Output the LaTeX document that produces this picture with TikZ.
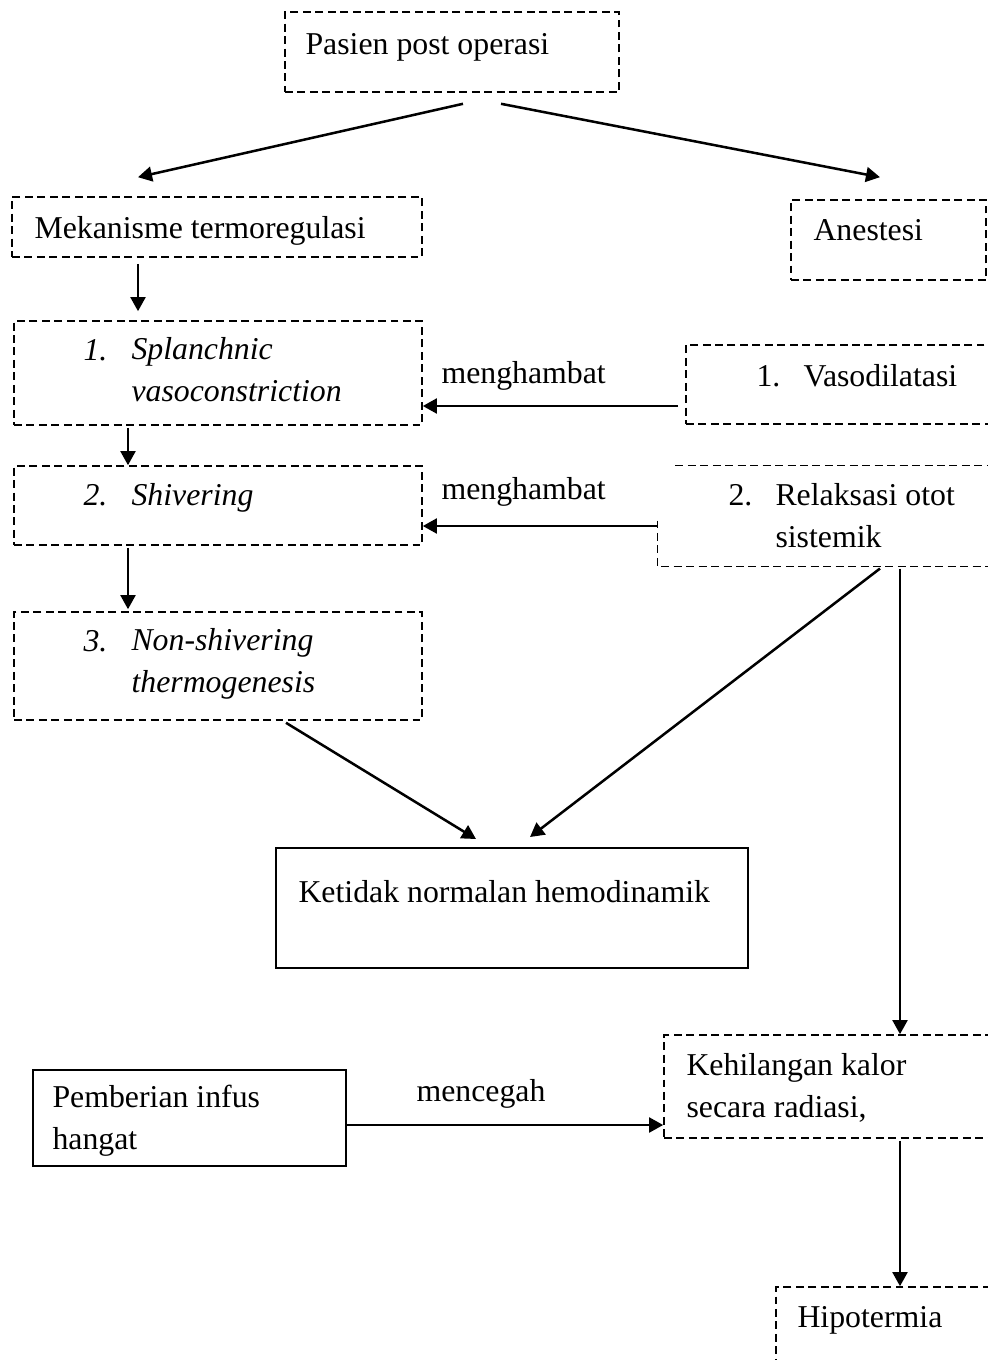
\documentclass[tikz,border=0pt]{standalone}
\usepackage{fontspec}
\setmainfont{Liberation Serif}
\usetikzlibrary{positioning,fit,arrows.meta}

\begin{document}
\begin{tikzpicture}[x=0.3774pt, y=-0.3774pt,
  dline/.style={dash pattern=on 3pt off 1.7pt, line width=0.6pt},
  dbox/.style={draw, dline, inner sep=0pt},
  sbox/.style={draw, line width=0.75pt, inner sep=0pt},
  txt/.style={anchor=base west, inner sep=0pt, align=left, font=\fontsize{12}{15.6}\selectfont},
  ittxt/.style={txt, font=\fontsize{12}{15.6}\selectfont\itshape},
  arr/.style={line width=0.95pt, -{Triangle[length=5.3pt,width=5.6pt]}}]
\useasboundingbox (0,0) rectangle (988,1360);
\clip (0,0) rectangle (988,1360);

% kotak
\node[dbox, fit={(285,12) (619,92)}] (pasien) {};
\node[dbox, fit={(12,197) (422,257)}] (meka) {};
\node[dbox, fit={(791,200) (986,280)}] (anest) {};
\node[dbox, fit={(14,321) (422,425)}] (splan) {};
\node[dbox, fit={(14,466) (422,545)}] (shiv) {};
\node[dbox, fit={(14,612) (422,720)}] (nonshiv) {};
\node[dbox, fit={(686,345) (995,424)}] (vaso) {};
\node[fit={(658,466) (995,566)}, inner sep=0pt] (relak) {};
\node[sbox, fit={(276,848) (748,968)}] (ketidak) {};
\node[sbox, fit={(33,1070) (346,1166)}] (pember) {};
\node[dbox, fit={(664,1035) (995,1138)}] (kehil) {};
\node[dbox, fit={(776,1287) (995,1375)}] (hipo) {};

% bingkai relaksasi (sebagian)
\draw[dline] ([shift={(18,0)}]relak.north west) -- (relak.north east);
\draw[dline] ([shift={(0,-46)}]relak.south west) -- (relak.south west) -- (relak.south east);

% teks
\node[txt] (pasienT) at (305,55) {Pasien post operasi};
\node[txt] (mekaT) at (34,238) {Mekanisme termoregulasi};
\node[txt] (anestT) at (813,240) {Anestesi};
\node[ittxt] (splanN) at (83,360) {1.};
\node[ittxt] (splanT) at (131,401) {Splanchnic\\vasoconstriction};
\node[ittxt] (shivN) at (83,505) {2.};
\node[ittxt] (shivT) at (131,505) {Shivering};
\node[ittxt] (nonshivN) at (83,651) {3.};
\node[ittxt] (nonshivT) at (131,692) {Non-shivering\\thermogenesis};
\node[txt] (vasoN) at (756,386) {1.};
\node[txt] (vasoT) at (803,386) {Vasodilatasi};
\node[txt] (relakN) at (728,505) {2.};
\node[txt] (relakT) at (775,547) {Relaksasi otot\\sistemik};
\node[txt] (ketidakT) at (298,902) {Ketidak normalan hemodinamik};
\node[txt] (pemberT) at (52,1149) {Pemberian infus\\hangat};
\node[txt] (kehilT) at (686,1117) {Kehilangan kalor\\secara radiasi,};
\node[txt] (hipoT) at (797,1327) {Hipotermia};
\node[txt] (hambat1) at (441,383) {menghambat};
\node[txt] (hambat2) at (441,499) {menghambat};
\node[txt] (cegah) at (416,1101) {mencegah};

% panah
\draw[arr] ([shift={(11,11)}]pasien.south) -- ([shift={(-79,-19)}]meka.north);
\draw[arr] ([shift={(49,11)}]pasien.south) -- ([shift={(-8.5,-22)}]anest.north);
\draw[arr] ([shift={(-79,6)}]meka.south) -- ([shift={(-80,-9)}]splan.north);
\draw[arr] ([shift={(-90,2)}]splan.south) -- ([shift={(-90,0)}]shiv.north);
\draw[arr] ([shift={(-90,2)}]shiv.south) -- ([shift={(-90,-2)}]nonshiv.north);
\draw[arr] ([shift={(-7,21.5)}]vaso.west) coordinate (v1) -- (v1 -| splan.east);
\draw[arr] ([shift={(0,10)}]relak.west) coordinate (r1) -- (r1 -| shiv.east);
\draw[arr] ([shift={(68,2)}]nonshiv.south) -- ([shift={(-36,-8)}]ketidak.north);
\draw[arr] ([shift={(53.5,2)}]relak.south) -- ([shift={(18,-10)}]ketidak.north);
\draw[arr] ([shift={(73.5,2)}]relak.south) coordinate (r2) -- (r2 |- kehil.north);
\draw[arr] ([shift={(0,7)}]pember.east) coordinate (p1) -- (p1 -| kehil.west);
\draw[arr] ([shift={(70.5,2)}]kehil.south) coordinate (k1) -- (k1 |- hipo.north);
\end{tikzpicture}
\end{document}
